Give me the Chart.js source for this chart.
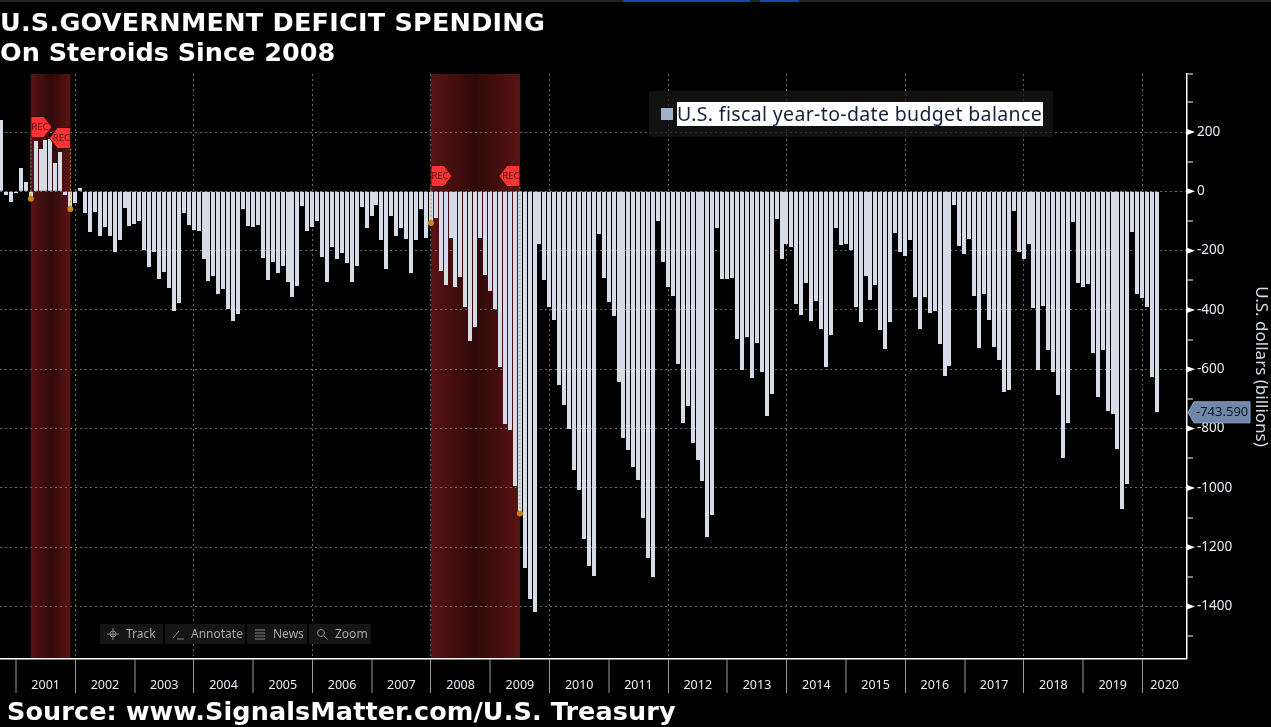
<!DOCTYPE html>
<html>
<head>
<meta charset="utf-8">
<title>U.S. Government Deficit Spending</title>
<script src="https://cdn.jsdelivr.net/npm/chart.js@4"></script>
<style>
    html, body { margin: 0; padding: 0; background: #000; }
    #page { position: relative; width: 1271px; height: 727px; overflow: hidden; background: #000; }
    canvas { position: absolute; left: 0; top: 0; }
    .headline { position: absolute; left: 0; color: #fff; font: bold 25.5px "DejaVu Sans", sans-serif; white-space: pre; }
    #topStrip { position: absolute; left: 0; top: 0; width: 1271px; height: 2px; background: #222; }
    .tab { position: absolute; top: 0; height: 2px; background: #0a4db0; }
    #legendBox { position: absolute; left: 649px; top: 91px; width: 404px; height: 46px; background: rgba(24, 24, 24, .72); border-radius: 3px; }
    #legendSwatch { position: absolute; left: 12px; top: 17px; width: 12px; height: 12px; background: #a0b0c8; }
    #legendText { position: absolute; left: 28px; top: 11px; width: 366px; height: 24px; background: #fff; color: #14233c; font: 19.5px/24px "Noto Sans", sans-serif; letter-spacing: .35px; white-space: pre; }
    .tool { position: absolute; top: 624px; height: 20px; background: #151515; color: #a8a8a8; font: 12px/20px "Noto Sans", sans-serif; white-space: pre; }
    .tool svg { position: absolute; left: 7px; top: 4px; }
    .tool span { position: absolute; top: 0; }
</style>
</head>
<body>
<div id="page">
    <canvas id="deficitChart" width="1271" height="727"></canvas>

    <div id="topStrip"></div>
    <div class="tab" style="left:623px;width:127px"></div>
    <div class="tab" style="left:760px;width:39px"></div>

    <div class="headline" style="top:7px;letter-spacing:.24px">U.S.GOVERNMENT DEFICIT SPENDING</div>
    <div class="headline" style="top:37px">On Steroids Since 2008</div>
    <div class="headline" style="left:7px;top:696px;letter-spacing:.1px">Source: www.SignalsMatter.com/U.S. Treasury</div>

    <div id="legendBox">
        <div id="legendSwatch"></div>
        <div id="legendText">U.S. fiscal year-to-date budget balance</div>
    </div>

    <div class="tool" style="left:100px;width:63px">
        <svg width="12" height="12" stroke="#888" fill="none"><circle cx="6" cy="6" r="3"/><path d="M6 0v12M0 6h12"/></svg>
        <span style="left:26px">Track</span>
    </div>
    <div class="tool" style="left:165px;width:80px">
        <svg width="12" height="12" stroke="#888" fill="none"><path d="M1 10l6-7M5 11h7"/></svg>
        <span style="left:26px">Annotate</span>
    </div>
    <div class="tool" style="left:247px;width:60px">
        <svg width="12" height="12" stroke="#888" fill="none"><path d="M1 2h10M1 5h10M1 8h10M1 11h10"/></svg>
        <span style="left:26px">News</span>
    </div>
    <div class="tool" style="left:309px;width:62px">
        <svg width="12" height="12" stroke="#888" fill="none"><circle cx="5" cy="5" r="3.5"/><path d="M8 8l3.5 3.5"/></svg>
        <span style="left:26px">Zoom</span>
    </div>
</div>

<script>
// ===============================
// Data (US$ billions, one bar per month, Sep 2000 - Mar 2020)
// ===============================
const budgetBalance = [
    240, -12, -36, -6, 79, 31, -22, 170, 143, 173, 176, 95, 133,
    -12, -60, -40, 11, -73, -137, -70, -150, -120, -150, -205, -164,
    -56, -117, -110, -100, -198, -255, -205, -296, -272, -326, -404, -377,
    -73, -114, -130, -134, -228, -302, -285, -346, -329, -397, -437, -414,
    -60, -117, -120, -114, -225, -299, -238, -275, -252, -306, -356, -319,
    -50, -134, -120, -100, -221, -306, -188, -228, -208, -242, -306, -252,
    -53, -124, -83, -46, -164, -262, -83, -151, -124, -161, -275, -164,
    -60, -157, -107, -90, -269, -316, -157, -323, -289, -390, -505, -457,
    -157, -282, -336, -397, -592, -785, -805, -994, -1086, -1270, -1375, -1418,
    -178, -299, -390, -434, -653, -720, -801, -940, -1007, -1172, -1263, -1297,
    -144, -292, -373, -420, -643, -832, -872, -930, -973, -1102, -1236, -1300,
    -100, -238, -323, -353, -582, -781, -724, -849, -906, -977, -1166, -1091,
    -124, -296, -296, -292, -498, -602, -491, -629, -511, -609, -758, -683,
    -93, -228, -178, -188, -380, -417, -309, -437, -370, -464, -592, -484,
    -124, -181, -178, -198, -390, -441, -285, -366, -316, -468, -532, -441,
    -140, -205, -218, -164, -356, -464, -356, -410, -404, -515, -623, -589,
    -46, -184, -211, -161, -353, -528, -346, -434, -525, -569, -677, -670,
    -66, -205, -228, -178, -393, -602, -387, -535, -609, -687, -899, -781,
    -103, -309, -323, -312, -545, -693, -535, -741, -751, -869, -1071, -987,
    -137, -346, -360, -390, -626, -743.59
];

const yearLabels = ['2001', '2002', '2003', '2004', '2005', '2006', '2007', '2008', '2009', '2010',
    '2011', '2012', '2013', '2014', '2015', '2016', '2017', '2018', '2019', '2020'];

// bar index of each December that closes the year before a label
const yearStartIndex = [3, 15, 27, 39, 51, 63, 75, 87, 99, 111, 123, 135, 147, 159, 171, 183, 195, 207, 219, 231];

// recession bands, as bar indexes, and the values the pins sit on
const recessionStart = [6, 87];
const recessionEnd = [14, 105];
const recessionPinIndex = [6, 14, 87, 105];
const recessionPinValue = [-25, -60, -107, -1086];

const yMin = -1577;
const yMax = 395.6;
const xMin = -0.243;
const xMax = 240.04;


// ======================================
// Plugin: recession shading (under the grid)
// ======================================
const shadingPlugin = {
    id: 'shading',
    beforeDraw(chart) {
        const { ctx, scales, chartArea } = chart;
        recessionStart.forEach((start, i) => {
            const x0 = scales.x.getPixelForValue(start);
            const x1 = scales.x.getPixelForValue(recessionEnd[i]);
            const grad = ctx.createLinearGradient(x0, 0, x1, 0);
            grad.addColorStop(0, '#591313');
            grad.addColorStop(0.5, '#300909');
            grad.addColorStop(1, '#591313');
            ctx.fillStyle = grad;
            ctx.fillRect(x0, chartArea.top, x1 - x0, chartArea.bottom - chartArea.top);
        });
    },
    // the original bars sit on whole pixels, so snap the ones the scale placed
    beforeDatasetsDraw(chart) {
        chart.getDatasetMeta(1).data.forEach(bar => {
            bar.x = Math.floor(bar.x + 0.3);
            bar.y = Math.round(bar.y);
        });
    }
};


// ======================================
// Plugin: REC flags, axis arrows, last value tag
// ======================================
function drawFlag(ctx, x, y, dir) {
    ctx.beginPath();
    ctx.moveTo(x, y - 10.5);
    ctx.lineTo(x + dir * 13, y - 10.5);
    ctx.lineTo(x + dir * 21, y);
    ctx.lineTo(x + dir * 13, y + 10.5);
    ctx.lineTo(x, y + 10.5);
    ctx.closePath();
    ctx.fillStyle = '#ff3333';
    ctx.fill();
    ctx.strokeStyle = '#3a0505';
    ctx.lineWidth = 1;
    ctx.stroke();
    ctx.fillStyle = '#4a0a0a';
    ctx.font = '9.5px "Noto Sans", sans-serif';
    ctx.textAlign = 'center';
    ctx.textBaseline = 'middle';
    ctx.fillText('REC', x + dir * 9, y);
}

const overlayPlugin = {
    id: 'overlay',
    afterDatasetsDraw(chart) {
        const { ctx, scales } = chart;
        const flagY = [127, 138, 176, 176];
        const flagDir = [1, -1, 1, -1];

        ctx.save();
        recessionPinIndex.forEach((idx, i) => {
            const x = scales.x.getPixelForValue(idx);
            ctx.strokeStyle = '#d8901a';
            ctx.lineWidth = 1;
            ctx.setLineDash([2, 2]);
            ctx.beginPath();
            ctx.moveTo(x, flagY[i] + 10.5);
            ctx.lineTo(x, scales.y.getPixelForValue(recessionPinValue[i]));
            ctx.stroke();
            ctx.setLineDash([]);
            drawFlag(ctx, x, flagY[i], flagDir[i]);
        });
        ctx.restore();
    },
    afterDraw(chart) {
        const { ctx, scales, chartArea } = chart;
        const axisX = chartArea.right;

        ctx.save();
        // arrows on the labelled ticks
        ctx.fillStyle = '#fff';
        for (let v = 200; v >= -1400; v -= 200) {
            const y = scales.y.getPixelForValue(v);
            ctx.beginPath();
            ctx.moveTo(axisX, y - 3);
            ctx.lineTo(axisX + 8, y);
            ctx.lineTo(axisX, y + 3);
            ctx.closePath();
            ctx.fill();
        }

        // tag with the last value
        const last = budgetBalance[budgetBalance.length - 1];
        const tagY = scales.y.getPixelForValue(last) + 0.5;
        ctx.beginPath();
        ctx.moveTo(axisX + 1, tagY);
        ctx.lineTo(axisX + 7, tagY - 10.5);
        ctx.lineTo(axisX + 63, tagY - 10.5);
        ctx.lineTo(axisX + 63, tagY + 10.5);
        ctx.lineTo(axisX + 7, tagY + 10.5);
        ctx.closePath();
        ctx.fillStyle = '#6f88aa';
        ctx.fill();
        ctx.strokeStyle = '#8ea5c4';
        ctx.lineWidth = 1;
        ctx.stroke();
        ctx.fillStyle = '#0d1420';
        ctx.font = '13px "Noto Sans", sans-serif';
        ctx.textAlign = 'left';
        ctx.textBaseline = 'middle';
        ctx.fillText(last.toFixed(3), axisX + 9, tagY);
        ctx.restore();
    }
};


// ======================================
// Chart
// ======================================
document.addEventListener('DOMContentLoaded', function () {
    const ctx = document.getElementById('deficitChart').getContext('2d');

    const isBoundary = (value) => yearStartIndex.includes(value);
    const hasGridLine = (value) => yearStartIndex.indexOf(value) % 2 === 1;

    new Chart(ctx, {
        type: 'bar',
        data: {
            datasets: [
                {
                    type: 'line',
                    label: 'Recession pins',
                    data: recessionPinIndex.map((x, i) => ({ x: x, y: recessionPinValue[i] })),
                    showLine: false,
                    pointRadius: 3,
                    pointBackgroundColor: '#c98414',
                    pointBorderWidth: 0,
                    order: 0
                },
                {
                    label: 'U.S. fiscal year-to-date budget balance',
                    data: budgetBalance.map((y, i) => ({ x: i, y: y })),
                    backgroundColor: '#d5dce8',
                    borderWidth: 0,
                    inflateAmount: 0,
                    barThickness: 4,
                    order: 1
                }
            ]
        },
        options: {
            responsive: false,
            animation: false,
            layout: { autoPadding: false, padding: { top: 74 } },
            plugins: {
                legend: { display: false },
                tooltip: { enabled: false }
            },
            scales: {
                x: {
                    type: 'linear',
                    min: xMin,
                    max: xMax,
                    bounds: 'data',
                    offset: false,
                    afterBuildTicks(scale) {
                        const ticks = yearStartIndex.map(v => ({ value: v }));
                        yearStartIndex.forEach((v, i) => {
                            const next = i + 1 < yearStartIndex.length ? yearStartIndex[i + 1] : xMax;
                            ticks.push({ value: (v + next) / 2 });
                        });
                        ticks.sort((a, b) => a.value - b.value);
                        scale.ticks = ticks;
                    },
                    afterFit(scale) { scale.height = 68; },
                    grid: {
                        offset: false,
                        color: '#6a6a6a',
                        lineWidth: (c) => (c.tick && hasGridLine(c.tick.value) ? 1 : 0),
                        tickLength: 34,
                        tickColor: '#9a9a9a',
                        tickWidth: (c) => (c.tick && isBoundary(c.tick.value) ? 1 : 0),
                        tickBorderDash: []
                    },
                    border: { display: true, color: '#fff', width: 1.5, dash: [2, 3] },
                    ticks: {
                        autoSkip: false,
                        maxRotation: 0,
                        padding: -15,
                        color: '#e8edf4',
                        font: { family: '"Noto Sans", sans-serif', size: 12.5 },
                        callback: function (value) {
                            if (isBoundary(value)) return '';
                            const next = yearStartIndex.findIndex(v => v > value);
                            return yearLabels[next === -1 ? yearLabels.length - 1 : next - 1];
                        }
                    }
                },
                y: {
                    position: 'right',
                    min: yMin,
                    max: yMax,
                    bounds: 'data',
                    beginAtZero: false,
                    afterBuildTicks(scale) {
                        const ticks = [];
                        for (let v = 300; v >= -1500; v -= 100) ticks.push({ value: v });
                        ticks.unshift({ value: yMax });
                        scale.ticks = ticks;
                    },
                    afterFit(scale) { scale.width = 84; },
                    title: {
                        display: true,
                        text: 'U.S. dollars (billions)',
                        color: '#d4dde8',
                        padding: 0,
                        font: { family: '"Noto Sans", sans-serif', size: 17 }
                    },
                    grid: {
                        color: '#6a6a6a',
                        lineWidth: (c) => (c.tick && c.tick.value % 200 === 0 ? 1 : 0),
                        tickLength: 6,
                        tickColor: '#fff',
                        tickWidth: 1,
                        tickBorderDash: []
                    },
                    border: { display: true, color: '#fff', width: 1.5, dash: [2, 3] },
                    ticks: {
                        autoSkip: false,
                        padding: 4,
                        color: '#e8edf4',
                        font: { family: '"Noto Sans", sans-serif', size: 13.5 },
                        callback: function (value) {
                            return value % 200 === 0 ? String(value) : '';
                        }
                    }
                }
            }
        },
        plugins: [shadingPlugin, overlayPlugin]
    });
});
</script>
</body>
</html>
